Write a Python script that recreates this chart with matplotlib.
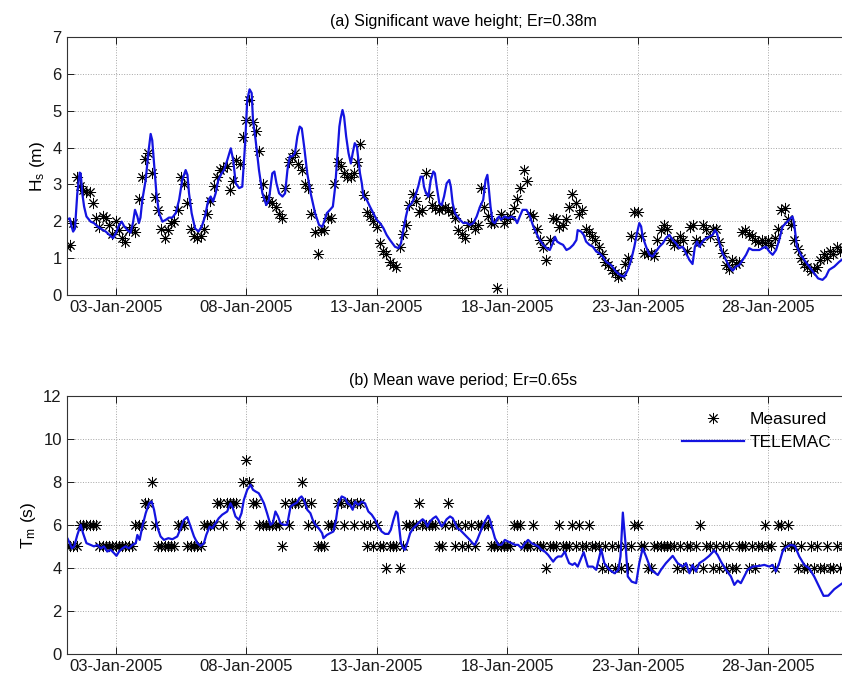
import numpy as np
import matplotlib.pyplot as plt

plt.rcParams['font.family'] = ['Liberation Sans', 'DejaVu Sans']
plt.rcParams['mathtext.default'] = 'regular'

# x axis: day of January 2005
tick_days = [3, 8, 13, 18, 23, 28]
tick_labels = ['03-Jan-2005', '08-Jan-2005', '13-Jan-2005',
               '18-Jan-2005', '23-Jan-2005', '28-Jan-2005']

# measured data, 3-hourly, one row per day (01-Jan ... 30-Jan)
hs_meas = [
    [1.3, 1.3, 1.35, 1.95, 3.2, 2.95, 2.85, 2.8],
    [2.8, 2.5, 2.1, 1.85, 2.15, 2.1, 1.9, 1.65],
    [2.0, 1.75, 1.55, 1.45, 1.75, 1.85, 1.7, 2.6],
    [3.2, 3.7, 3.85, 3.3, 2.65, 2.3, 1.8, 1.55],
    [1.75, 1.95, 2.0, 2.3, 3.2, 3.0, 2.5, 1.8],
    [1.6, 1.55, 1.6, 1.8, 2.2, 2.55, 2.95, 3.2],
    [3.4, 3.45, 3.5, 2.85, 3.1, 3.65, 3.55, 4.3],
    [4.75, 5.3, 4.7, 4.45, 3.9, 3.0, 2.65, 2.55],
    [2.5, 2.4, 2.2, 2.1, 2.9, 3.6, 3.75, 3.85],
    [3.55, 3.4, 3.0, 2.9, 2.2, 1.7, 1.1, 1.75],
    [1.75, 2.1, 2.1, 3.0, 3.6, 3.5, 3.3, 3.2],
    [3.2, 3.3, 3.6, 4.1, 2.7, 2.25, 2.15, 2.0],
    [1.85, 1.4, 1.2, 1.1, 0.9, 0.8, 0.75, 1.3],
    [1.65, 1.9, 2.45, 2.75, 2.55, 2.25, 2.3, 3.3],
    [2.7, 2.45, 2.35, 2.3, 2.35, 2.4, 2.3, 2.25],
    [2.1, 1.75, 1.65, 1.55, 1.9, 1.95, 1.8, 1.9],
    [2.9, 2.4, 2.15, 1.95, 1.95, 0.2, 2.2, 1.95],
    [2.05, 2.15, 2.35, 2.6, 2.9, 3.4, 3.1, 2.2],
    [2.15, 1.8, 1.5, 1.3, 0.95, 1.5, 2.1, 2.05],
    [1.85, 1.9, 2.05, 2.4, 2.75, 2.5, 2.2, 2.3],
    [1.8, 1.7, 1.6, 1.5, 1.3, 1.1, 0.9, 0.8],
    [0.68, 0.6, 0.5, 0.55, 0.85, 1.0, 1.6, 2.25],
    [2.25, 1.6, 1.15, 1.1, 1.15, 1.05, 1.5, 1.75],
    [1.9, 1.8, 1.5, 1.35, 1.45, 1.6, 1.5, 1.2],
    [1.85, 1.9, 1.5, 1.45, 1.9, 1.8, 1.6, 1.8],
    [1.8, 1.45, 1.15, 0.8, 0.7, 0.95, 0.85, 0.9],
    [1.7, 1.75, 1.65, 1.6, 1.5, 1.45, 1.5, 1.4],
    [1.5, 1.35, 1.55, 1.8, 2.3, 2.35, 2.05, 1.9],
    [1.5, 1.25, 1.0, 0.85, 0.75, 0.65, 0.7, 0.75],
    [0.95, 1.1, 1.0, 1.2, 1.1, 1.3, 1.2, 1.25],
]

tm_meas = [
    [5, 5, 5, 5, 5, 6, 6, 6],
    [6, 6, 6, 5, 5, 5, 5, 5],
    [5, 5, 5, 5, 5, 5, 6, 6],
    [6, 7, 7, 8, 6, 5, 5, 5],
    [5, 5, 5, 6, 6, 6, 5, 5],
    [5, 5, 5, 6, 6, 6, 6, 7],
    [7, 6, 7, 7, 7, 7, 6, 8],
    [9, 8, 7, 7, 6, 6, 6, 6],
    [6, 6, 6, 5, 7, 6, 7, 7],
    [7, 8, 7, 6, 7, 6, 5, 5],
    [5, 6, 6, 6, 7, 7, 6, 7],
    [7, 6, 7, 7, 6, 5, 6, 5],
    [6, 5, 5, 4, 5, 5, 5, 4],
    [5, 6, 6, 6, 6, 7, 6, 6],
    [6, 6, 6, 5, 5, 6, 7, 6],
    [5, 6, 5, 6, 5, 6, 5, 6],
    [6, 6, 6, 5, 5, 5, 5, 5],
    [5, 5, 6, 6, 6, 5, 5, 5],
    [6, 5, 5, 5, 4, 5, 5, 5],
    [6, 5, 5, 5, 6, 5, 6, 5],
    [5, 6, 5, 5, 5, 4, 5, 4],
    [5, 4, 5, 4, 5, 4, 5, 6],
    [6, 5, 5, 4, 4, 5, 5, 5],
    [5, 5, 5, 5, 4, 5, 4, 5],
    [5, 4, 5, 6, 4, 5, 5, 4],
    [5, 4, 5, 4, 5, 4, 4, 5],
    [5, 5, 4, 5, 4, 5, 5, 6],
    [5, 5, 4, 6, 6, 5, 6, 5],
    [5, 4, 5, 4, 4, 5, 4, 5],
    [4, 4, 5, 4, 4, 5, 4, 5],
]

# TELEMAC model output (day, value)
hs_model_t = [1.15, 1.24, 1.31, 1.37, 1.44, 1.53, 1.62, 1.66, 1.72, 1.79, 1.88, 2.04, 2.17, 2.30,
              2.43, 2.62, 2.81, 2.90, 3.0, 3.13, 3.23, 3.32, 3.45, 3.57, 3.66, 3.74, 3.83, 3.89,
              3.95, 4.02, 4.15, 4.25, 4.34, 4.40, 4.47, 4.56, 4.66, 4.79, 4.92, 5.04, 5.17, 5.30,
              5.43, 5.55, 5.68, 5.75, 5.81, 5.91, 6.04, 6.17, 6.30, 6.42, 6.55, 6.64, 6.73, 6.83,
              6.93, 7.06, 7.15, 7.28, 7.41, 7.50, 7.60, 7.73, 7.85, 7.96, 8.04, 8.13, 8.21, 8.26,
              8.36, 8.49, 8.62, 8.77, 8.87, 9.0, 9.08, 9.16, 9.26, 9.39, 9.49, 9.58, 9.67, 9.77,
              9.87, 9.96, 10.05, 10.13, 10.22, 10.34, 10.47, 10.64, 10.79, 10.92,
              11.09, 11.21, 11.32, 11.41, 11.50, 11.57, 11.62, 11.69, 11.75, 11.83, 11.92, 12.01,
              12.08, 12.16, 12.24, 12.30, 12.36, 12.43, 12.49, 12.55, 12.62, 12.74, 12.87, 13.0,
              13.13, 13.26, 13.38, 13.51, 13.70, 13.83, 13.93, 14.02, 14.12, 14.21, 14.34, 14.47,
              14.59, 14.68, 14.76, 14.81, 14.89, 14.98, 15.07, 15.17, 15.23, 15.30, 15.40, 15.49,
              15.58, 15.68, 15.78, 15.84, 15.91, 16.0, 16.09, 16.19, 16.32, 16.44, 16.57, 16.70,
              16.83, 16.96, 17.08, 17.17, 17.24, 17.30, 17.36, 17.44, 17.53, 17.62, 17.69, 17.76,
              17.82, 17.91, 18.04, 18.17, 18.29, 18.38, 18.48, 18.59, 18.74, 18.87, 19.0, 19.12,
              19.25, 19.38, 19.51, 19.63, 19.74, 19.83, 19.91, 20.02, 20.14, 20.27, 20.40, 20.53,
              20.65, 20.70, 20.83, 20.93, 21.02, 21.15, 21.28, 21.41, 21.53, 21.66, 21.79, 21.98,
              22.17, 22.36, 22.49, 22.62, 22.75, 22.87, 22.97, 23.06, 23.13, 23.19, 23.32, 23.45,
              23.57, 23.70, 23.83, 23.96, 24.08, 24.21, 24.34, 24.47, 24.59, 24.72, 24.85, 24.98,
              25.10, 25.19, 25.27, 25.36, 25.49, 25.61, 25.74, 25.87, 25.96, 26.04, 26.13, 26.25,
              26.38, 26.51, 26.64, 26.76, 26.89, 27.02, 27.15, 27.27, 27.40, 27.53, 27.66, 27.78,
              27.91, 28.04, 28.17, 28.30, 28.42, 28.55, 28.68, 28.80, 28.93, 28.99, 29.10, 29.22,
              29.38, 29.57, 29.76, 29.91, 30.08, 30.21, 30.33, 30.53, 30.72, 30.81]
hs_model = [2.05, 2.08, 1.86, 1.72, 1.8, 2.76, 3.32, 3.3, 2.76, 2.4, 2.13, 1.99, 1.95, 1.86,
            1.8, 1.72, 1.6, 1.54, 1.67, 1.9, 1.99, 1.87, 1.76, 1.69, 1.95, 2.31, 2.13, 1.95,
            2.1, 2.58, 3.12, 3.85, 4.37, 4.2, 3.57, 2.76, 2.22, 1.99, 2.04, 2.1, 2.1, 2.22,
            2.58, 3.12, 3.39, 3.26, 2.76, 2.22, 1.81, 1.72, 1.86, 2.13, 2.58, 2.67, 2.53, 2.76,
            3.12, 3.3, 3.39, 3.67, 3.98, 3.67, 3.03, 2.9, 2.94, 4.12, 5.29, 5.58, 5.48, 4.75,
            4.21, 3.39, 2.76, 2.44, 2.58, 3.3, 3.35, 3.03, 2.76, 2.67, 2.76, 3.39, 3.76, 3.76,
            3.85, 4.3, 4.57, 4.52, 4.03, 3.3, 2.76, 2.22, 1.9, 1.85,
            2.22, 2.31, 2.4, 2.94, 3.85, 4.57, 4.8, 5.02, 4.84, 4.3, 3.85, 3.57,
            3.85, 4.12, 4.03, 3.67, 3.3, 3.03, 2.67, 2.62, 2.58, 2.4, 2.22, 2.04,
            1.95, 1.81, 1.63, 1.49, 1.31, 1.27, 1.4, 1.76, 2.13, 2.4, 2.49, 2.67,
            2.94, 3.21, 3.21, 2.94, 2.76, 2.67, 3.12, 3.35, 3.3, 2.94, 2.49, 2.44,
            2.67, 3.03, 3.12, 2.94, 2.49, 2.22, 2.13, 2.04, 1.95, 1.96, 1.9, 1.95,
            2.13, 2.4, 2.58, 3.12, 3.26, 2.85, 2.4, 1.99, 1.95, 2.08, 2.13, 2.04,
            2.08, 2.13, 2.08, 2.13, 2.08, 1.95, 2.13, 2.31, 2.31, 2.13, 1.86, 1.67,
            1.49, 1.36, 1.27, 1.22, 1.4, 1.58, 1.45, 1.4, 1.36, 1.22, 1.27, 1.36,
            1.49, 1.76, 1.72, 1.63, 1.45, 1.36, 1.31, 1.18, 1.13, 1.04, 0.9, 0.81,
            0.63, 0.52, 0.5, 0.68, 0.95, 1.31, 1.67, 1.95, 1.86, 1.58, 1.31, 1.09,
            1.04, 1.18, 1.31, 1.4, 1.54, 1.63, 1.49, 1.4, 1.27, 1.31, 1.13, 0.95,
            0.84, 1.31, 1.45, 1.31, 1.45, 1.54, 1.58, 1.63, 1.76, 1.67, 1.4, 1.13,
            0.95, 0.77, 0.66, 0.77, 0.81, 0.95, 1.09, 1.27, 1.22, 1.22, 1.22, 1.27,
            1.31, 1.18, 1.09, 1.22, 1.49, 1.86, 1.95, 2.04, 2.13, 1.95, 1.31, 1.13,
            0.95, 0.77, 0.59, 0.45, 0.41, 0.5, 0.68, 0.77, 0.9, 0.95]

tm_model_t = [1.02, 1.15, 1.24, 1.32, 1.41, 1.53, 1.66, 1.75, 1.88, 2.04, 2.17, 2.30, 2.43, 2.55,
              2.68, 2.81, 2.94, 3.03, 3.13, 3.26, 3.38, 3.51, 3.64, 3.77, 3.83, 3.92, 4.02, 4.15,
              4.28, 4.38, 4.47, 4.59, 4.72, 4.85, 5.02, 5.17, 5.36, 5.49, 5.61, 5.74, 5.87, 6.0,
              6.13, 6.25, 6.38, 6.47, 6.60, 6.70, 6.83, 6.95, 7.08, 7.27, 7.40, 7.49, 7.59, 7.72,
              7.82, 7.91, 8.04, 8.17, 8.26, 8.36, 8.48, 8.55, 8.68, 8.80, 8.93, 9.02, 9.12, 9.22,
              9.31, 9.44, 9.57, 9.70, 9.79, 9.95, 10.04, 10.12, 10.21, 10.34, 10.46, 10.55, 10.65,
              10.78, 10.91, 10.96, 11.09, 11.21, 11.34, 11.44, 11.53, 11.66, 11.79, 11.88, 11.98,
              12.08, 12.17, 12.30, 12.43, 12.55, 12.68, 12.81, 12.94, 13.06, 13.19, 13.32, 13.45,
              13.54, 13.64, 13.74, 13.80, 13.87, 13.93, 14.02, 14.08, 14.17, 14.28, 14.40, 14.53,
              14.66, 14.76, 14.85, 14.94, 15.04, 15.17, 15.27, 15.36, 15.49, 15.59, 15.68, 15.81,
              15.91, 15.97, 16.09, 16.19, 16.32, 16.44, 16.57, 16.67, 16.76, 16.85, 16.95, 17.08,
              17.18, 17.27, 17.34, 17.44, 17.53, 17.66, 17.78, 17.91, 18.04, 18.17, 18.29, 18.42,
              18.55, 18.68, 18.80, 18.93, 19.06, 19.19, 19.31, 19.44, 19.57, 19.66, 19.76, 19.86,
              19.95, 20.08, 20.21, 20.27, 20.37, 20.50, 20.59, 20.70, 20.93, 21.09, 21.28, 21.41,
              21.60, 21.72, 21.92, 22.11, 22.26, 22.34, 22.43, 22.52, 22.62, 22.77, 22.94, 23.06,
              23.19, 23.32, 23.51, 23.77, 23.89, 24.08, 24.34, 24.53, 24.72, 24.85, 24.98, 25.10,
              25.23, 25.36, 25.55, 25.74, 25.93, 26.06, 26.19, 26.38, 26.57, 26.70, 26.83, 26.95,
              27.08, 27.21, 27.40, 27.66, 27.85, 28.04, 28.17, 28.29, 28.42, 28.55, 28.68, 28.87,
              29.02, 29.19, 29.38, 29.57, 29.76, 29.95, 30.12, 30.30, 30.53, 30.81]
tm_model = [5.3, 5.38, 5.15, 4.91, 5.0, 5.53, 6.0, 5.61, 5.15, 5.07, 5.0, 5.07, 4.91, 5.0,
            4.76, 4.84, 4.68, 4.56, 4.76, 4.91, 5.0, 4.91, 5.07, 5.15, 5.53, 5.3, 5.92, 6.54,
            7.0, 7.08, 6.7, 5.92, 5.46, 5.3, 5.38, 5.33, 5.46, 5.84, 6.23, 6.36, 5.92, 5.46,
            5.15, 5.02, 5.15, 5.53, 5.92, 5.84, 6.08, 6.31, 6.47, 6.62, 7.0, 6.77, 6.39, 6.23,
            6.54, 7.16, 7.63, 7.86, 7.63, 7.55, 7.47, 7.32, 7.0, 6.54, 6.0, 6.08, 6.62, 6.39,
            6.08, 6.0, 6.0, 6.85, 6.93, 7.04, 7.24, 7.32, 7.16, 6.7, 6.54, 6.23, 6.0,
            5.84, 5.61, 5.38, 5.53, 5.61, 5.69, 6.23, 7.0, 7.32, 7.24, 7.0, 6.93,
            6.7, 7.08, 6.93, 7.08, 7.0, 6.62, 6.47, 6.23, 5.92, 5.69, 5.58, 5.58,
            5.77, 6.23, 6.62, 6.54, 5.77, 5.15, 4.91, 4.84, 5.15, 5.61, 5.84, 6.0,
            6.16, 6.26, 6.16, 5.92, 6.16, 6.31, 6.39, 6.23, 5.92, 6.08, 6.26, 6.39,
            6.31, 6.16, 5.84, 5.77, 5.61, 5.46, 5.3, 5.15, 5.07, 5.3, 5.61, 6.0,
            6.23, 6.42, 6.23, 5.77, 5.38, 5.07, 5.07, 5.3, 5.22, 5.15, 5.07, 5.07,
            4.91, 5.15, 5.3, 5.15, 5.07, 5.0, 4.84, 4.76, 4.6, 4.45, 4.29, 4.45,
            4.53, 4.53, 4.76, 4.53, 4.22, 4.14, 4.22, 4.06, 4.73, 4.06, 4.06, 3.91,
            4.87, 4.22, 3.91, 3.75, 3.91, 4.53, 6.57, 5.3, 3.6, 3.36, 3.29, 4.22,
            4.91, 4.53, 3.91, 3.67, 3.91, 4.22, 4.56, 4.22, 4.06, 4.22, 3.75, 4.14,
            3.83, 4.22, 4.37, 4.56, 4.81, 4.6, 4.29, 3.91, 3.6, 3.21, 3.41, 3.29,
            3.6, 3.91, 4.06, 4.09, 4.14, 4.06, 4.14, 3.83, 4.22, 4.76, 4.96, 5.07,
            5.02, 4.53, 4.14, 3.98, 3.6, 3.13, 2.7, 2.71, 3.01, 3.26]

t_meas = np.arange(1, 31, 0.125)
hs_meas = np.array(hs_meas).ravel()
tm_meas = np.array(tm_meas).ravel()

fig = plt.figure(figsize=(8.42, 6.77), dpi=100)
ax1 = fig.add_axes([0.0792, 0.5643, 0.942, 0.381])
ax2 = fig.add_axes([0.0792, 0.034, 0.942, 0.3815])

star = (8, 2, 0)

panels = [
    (ax1, hs_meas, hs_model_t, hs_model, (0, 7), np.arange(0, 8, 1),
     'H$_s$ (m)', '(a) Significant wave height; Er=0.38m'),
    (ax2, tm_meas, tm_model_t, tm_model, (0, 12), np.arange(0, 13, 2),
     'T$_m$ (s)', '(b) Mean wave period; Er=0.65s'),
]

for ax, meas, mt, mv, ylim, yticks, ylab, title in panels:
    ax.plot(t_meas, meas, ls='none', marker=star, ms=8, mec='k', mew=0.65,
            label='Measured')
    ax.plot(mt, mv, color=(0.08, 0.08, 0.88), lw=1.6, label='TELEMAC')
    ax.set_xlim(1.123, 31.51)
    ax.set_ylim(*ylim)
    ax.set_xticks(tick_days)
    ax.set_xticklabels(tick_labels)
    ax.set_yticks(yticks)
    ax.grid(True, ls=':', color='0.65', lw=0.7)
    ax.tick_params(direction='in', top=True, right=True, length=5, width=0.7,
                   labelsize=12, colors='0.1')
    for s in ax.spines.values():
        s.set_color('0.2')
        s.set_linewidth(0.8)
    ax.set_ylabel(ylab, fontsize=12.5)
    ax.set_title(title, fontsize=11.5, pad=8)

ax2.legend(loc='upper right', bbox_to_anchor=(1.006, 0.414),
           bbox_transform=fig.transFigure, frameon=False, fontsize=12.5,
           handlelength=3.6, handletextpad=0.3, labelspacing=0.45)

fig.savefig('out.png', dpi=100)
